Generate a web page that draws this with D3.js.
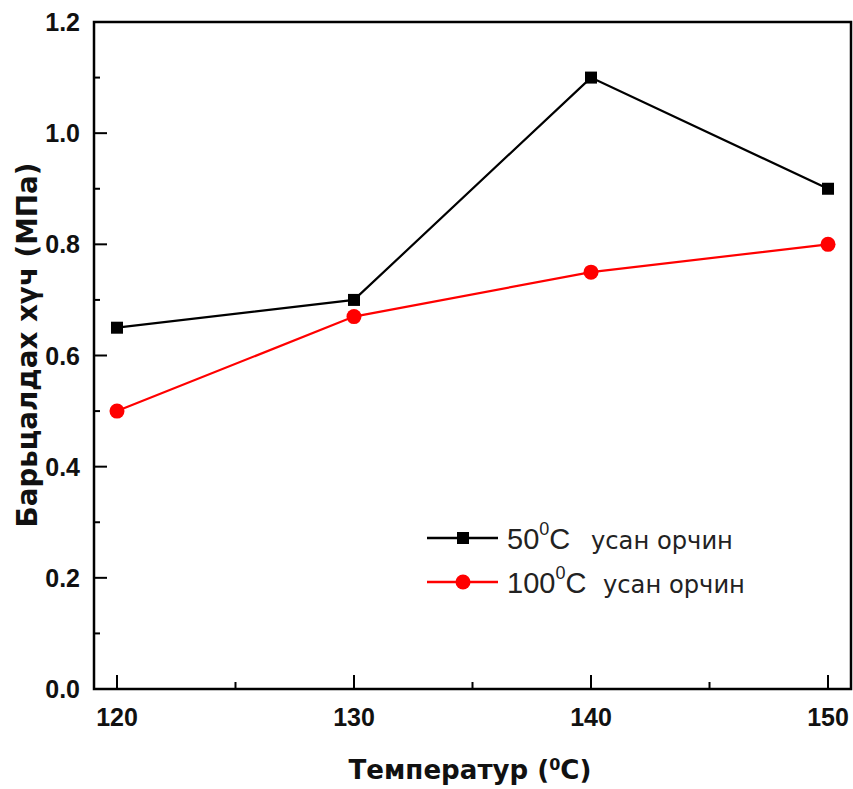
<!DOCTYPE html>
<html><head><meta charset="utf-8">
<script src="https://cdn.jsdelivr.net/npm/d3@7"></script>
<style>body{margin:0;background:#fff}</style>
</head><body>
<svg id="c" width="853" height="789"></svg>
<script>
const temps = [120, 130, 140, 150];
const series50 = [0.65, 0.70, 1.10, 0.90];
const series100 = [0.50, 0.67, 0.75, 0.80];
const xTicks = [120, 130, 140, 150];
const yTicks = [0.0, 0.2, 0.4, 0.6, 0.8, 1.0, 1.2];

const svg = d3.select("#c");
const L = 94, R = 851, T = 22, B = 689;
const x = d3.scaleLinear().domain([119.03, 150.97]).range([L, R]);
const y = d3.scaleLinear().domain([0, 1.2]).range([B, T]);
const font = "'Liberation Sans', Arial, sans-serif";
const tfont = "'DejaVu Sans', Verdana, sans-serif";

function fitWidth(sel, target) {
  const w = sel.node().getComputedTextLength();
  const fs = parseFloat(sel.attr("font-size"));
  sel.attr("font-size", fs * target / w);
}

// ticks
const g = svg.append("g");
xTicks.forEach(t => g.append("line").attr("x1", x(t)).attr("x2", x(t)).attr("y1", B).attr("y2", B - 14).attr("stroke", "#000").attr("stroke-width", 2));
[125, 135, 145].forEach(t => g.append("line").attr("x1", x(t)).attr("x2", x(t)).attr("y1", B).attr("y2", B - 7).attr("stroke", "#000").attr("stroke-width", 2));
yTicks.forEach(t => g.append("line").attr("y1", y(t)).attr("y2", y(t)).attr("x1", L).attr("x2", L + 13).attr("stroke", "#000").attr("stroke-width", 2));
[0.1, 0.3, 0.5, 0.7, 0.9, 1.1].forEach(t => g.append("line").attr("y1", y(t)).attr("y2", y(t)).attr("x1", L).attr("x2", L + 6).attr("stroke", "#000").attr("stroke-width", 2));

// frame
svg.append("rect").attr("x", L).attr("y", T).attr("width", R - L).attr("height", B - T)
  .attr("fill", "none").attr("stroke", "#000").attr("stroke-width", 2.5);

// tick labels
xTicks.forEach(t => svg.append("text").attr("x", x(t)).attr("y", 726).attr("text-anchor", "middle")
  .attr("font-family", font).attr("font-weight", "bold").attr("font-size", 25).attr("fill", "#111").text(t));
yTicks.forEach(t => svg.append("text").attr("x", 80).attr("y", y(t) + 9).attr("text-anchor", "end")
  .attr("font-family", font).attr("font-weight", "bold").attr("font-size", 25).attr("fill", "#111").text(t.toFixed(1)));

// axis titles
const xt = svg.append("text").attr("x", 470).attr("y", 779).attr("text-anchor", "middle")
  .attr("font-family", tfont).attr("font-weight", "bold").attr("font-size", 24).attr("fill", "#111");
xt.append("tspan").text("Температур (");
xt.append("tspan").attr("dy", -9).attr("font-size", 16).text("0");
xt.append("tspan").attr("dy", 9).text("C)");
fitWidth(xt, 244);
const yt = svg.append("text").attr("transform", "translate(37,345) rotate(-90)").attr("text-anchor", "middle")
  .attr("font-family", tfont).attr("font-weight", "bold").attr("font-size", 28).attr("fill", "#111").text("Барьцалдах хүч (МПа)");
fitWidth(yt, 365);

// lines
const line = d3.line().x((d, i) => x(temps[i])).y(d => y(d));
svg.append("path").datum(series100).attr("d", line).attr("fill", "none").attr("stroke", "#ff0000").attr("stroke-width", 2.2);
svg.append("path").datum(series50).attr("d", line).attr("fill", "none").attr("stroke", "#000").attr("stroke-width", 2.2);
svg.selectAll(".sq").data(series50).enter().append("rect")
  .attr("x", (d, i) => x(temps[i]) - 6).attr("y", d => y(d) - 6).attr("width", 12).attr("height", 12).attr("fill", "#000");
svg.selectAll(".ci").data(series100).enter().append("circle")
  .attr("cx", (d, i) => x(temps[i])).attr("cy", d => y(d)).attr("r", 7.5).attr("fill", "#ff0000");

// legend
const legend = [
  {label: "50", color: "#000", shape: "sq", y: 538, tx: 591},
  {label: "100", color: "#ff0000", shape: "ci", y: 582, tx: 603}
];
legend.forEach(d => {
  svg.append("line").attr("x1", 427).attr("x2", 498).attr("y1", d.y).attr("y2", d.y).attr("stroke", d.color).attr("stroke-width", 2.5);
  if (d.shape === "sq") svg.append("rect").attr("x", 457).attr("y", d.y - 6).attr("width", 12).attr("height", 12).attr("fill", d.color);
  else svg.append("circle").attr("cx", 463).attr("cy", d.y).attr("r", 7.5).attr("fill", d.color);
  const t = svg.append("text").attr("x", 507).attr("y", d.y + 11).attr("font-family", font).attr("font-size", 29).attr("fill", "#222");
  t.append("tspan").text(d.label);
  t.append("tspan").attr("dy", -14).attr("font-size", 18).text("0");
  t.append("tspan").attr("dy", 14).text("C");
  const u = svg.append("text").attr("x", d.tx).attr("y", d.y + 11).attr("font-family", tfont).attr("font-size", 24).attr("fill", "#222").text("усан орчин");
  fitWidth(u, 142);
});
</script>
</body></html>
